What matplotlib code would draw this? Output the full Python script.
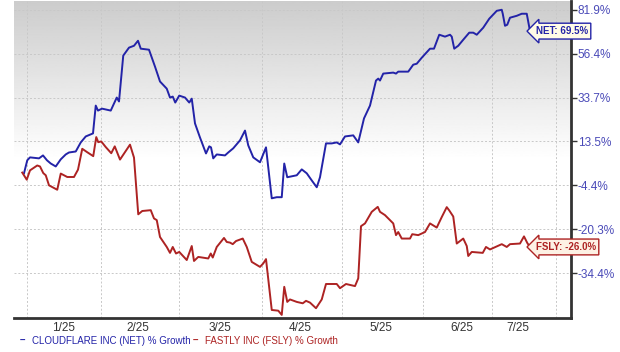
import numpy as np
import matplotlib
matplotlib.use("Agg")
import matplotlib.pyplot as plt

plt.rcParams["font.family"] = ["Liberation Sans", "DejaVu Sans"]

# % growth (x = days from start of series)
net_x = [0.8, 2.1, 3.2, 6.8, 8.4, 10, 11.5, 13.5, 15.5, 17.5, 18.8, 21.5, 23.5, 25.5, 28.4,
         29.5, 30.4, 32, 35.5, 37.9, 38.8, 40.5, 42.8, 44.8, 46.4, 47.5, 50.8, 53.2, 55.2,
         57.9, 59.2, 60.3, 61.3, 62.9, 65.2, 66.9, 67.9, 69.2, 71.2, 73.6, 74.9, 75.6, 76.5,
         77.9, 81.2, 82.5, 84.5, 87.2, 89.2, 90.5, 92.5, 95.2, 97.6, 99.9, 101.9, 103.9,
         104.9, 106.1, 109.9, 111.9, 113.9, 115.9, 117.9, 119.2, 121.6, 123.9, 125.9, 127.2,
         129.2, 132.5, 134.5, 136.8, 139.2, 141.6, 142.5, 143.2, 144.5, 148.5, 149.6, 150.5,
         154.5, 156.5, 157.9, 159.9, 163.2, 164.8, 166.9, 169.2, 171.2, 171.9, 172.9, 174.5,
         176.5, 178.9, 180.5, 181.9, 184.5, 186.9, 188.8, 189.9, 191.9, 192.3, 193.2, 194.1,
         195.2, 197.9, 199.9, 201.9, 203.2]
net_y = [0.5, 5.8, 7.0, 6.6, 7.8, 5.8, 4.5, 3.3, 6.2, 8.2, 9.0, 9.4, 13.1, 15.8, 17.2,
         30.0, 27.7, 28.6, 27.7, 33.7, 31.9, 55.4, 59.9, 61.0, 63.9, 59.3, 58.7, 49.7, 42.0,
         38.3, 33.7, 34.2, 31.4, 34.7, 33.7, 31.4, 33.2, 21.8, 15.3, 8.6, 11.5, 11.1, 6.6,
         8.2, 7.8, 9.0, 10.7, 14.0, 18.5, 11.9, 7.0, 5.0, 11.1, -9.1, -8.7, -8.7,
         4.5, -1.1, -0.3, 2.1, 0.5, -2.4, -5.1, -1.1, 12.7, 12.7, 13.1, 12.3,
         15.8, 16.3, 13.1, 24.1, 30.0, 42.5, 43.5, 42.5, 46.1, 46.6, 46.1, 47.1,
         47.1, 50.7, 51.2, 54.3, 59.3, 59.3, 67.4, 66.3, 67.4, 66.3, 59.3, 61.0,
         64.5, 68.6, 68.6, 67.4, 71.5, 76.7, 79.6, 81.3, 81.9, 79.6, 72.6, 73.2,
         77.3, 78.4, 79.6, 79.6, 69.5]

fsly_x = [0.1, 1.9, 3.2, 6.1, 7.2, 8.5, 9.5, 10.8, 14.1, 15.5, 18.1, 20.8, 22.4, 24.1, 26.1,
          28.5, 29.7, 30.5, 31.7, 33.5, 35.7, 37.1, 39.2, 43.2, 44.8, 46.5, 48.1, 51.5, 52.8,
          53.9, 55.2, 57.9, 59.2, 60.3, 61.6, 62.9, 65.9, 67.9, 68.8, 70.5, 74.5, 75.5, 76.3,
          77.9, 80.8, 81.9, 83.2, 84.3, 85.6, 88.3, 89.9, 91.9, 95.2, 96.5, 97.6, 99.9, 102.5,
          103.9, 104.9, 106.1, 107.2, 109.9, 112.3, 113.6, 115.2, 117.6, 119.9, 121.6, 125.9,
          127.2, 129.6, 133.2, 134.5, 135.6, 137.2, 139.9, 142.3, 143.2, 145.2, 148.5, 149.6,
          150.5, 151.9, 155.2, 156.1, 158.5, 161.2, 163.2, 165.9, 167.9, 169.9, 170.9, 172.5,
          173.9, 176.5, 177.9, 178.5, 179.9, 184.3, 185.6, 187.2, 191.9, 193.9, 195.2, 199.2,
          200.8, 202.1, 203.2]
fsly_y = [0.8, -2.1, 1.7, 3.7, 3.3, 0.6, -0.3, -4.4, -6.0, 0.4, -1.0, -1.0, 2.0, 10.5, 9.1,
          7.5, 15.5, 13.2, 13.5, 11.2, 8.7, 11.5, 6.1, 12.2, 6.9, -14.9, -13.7, -13.4, -16.4,
          -17.0, -22.8, -26.0, -27.9, -26.0, -28.1, -27.6, -30.2, -25.7, -30.5, -29.2, -29.7,
          -28.1, -29.4, -26.0, -23.1, -24.4, -24.6, -25.1, -24.1, -23.3, -26.0, -30.8, -32.4,
          -31.3, -29.9, -44.9, -45.1, -46.3, -38.3, -42.6, -41.9, -42.6, -43.0, -42.3, -42.8,
          -44.4, -41.9, -37.5, -37.5, -38.7, -37.5, -38.1, -35.9, -19.2, -18.2, -14.0, -12.2,
          -14.0, -15.2, -18.2, -22.2, -21.2, -23.3, -23.3, -21.9, -22.2, -21.2, -18.2, -19.7,
          -15.9, -12.3, -13.5, -15.7, -24.9, -23.3, -25.7, -28.9, -27.6, -27.9, -26.0, -26.8,
          -25.1, -26.0, -25.1, -24.9, -22.6, -24.7, -26.0]

y_ticks = [-34.4, -20.3, -4.4, 13.5, 33.7, 56.4, 81.9]
month_labels = ["1/25", "2/25", "3/25", "4/25", "5/25", "6/25", "7/25"]
month_pos = [16.8, 46.4, 79.2, 111.2, 143.6, 176.0, 198.4]
grid_x = [2, 31.6, 62.8, 96, 128, 160.4, 188, 213.6]

NET_C = "#2323a8"
FSLY_C = "#ad2323"
TICK_C = "#4a4ab8"

# the chart's y axis is evenly spaced between uneven % ticks
knot_v = np.array([-60.0, -46.9] + y_ticks + [110.4, 140.0])
knot_i = np.arange(len(knot_v)) - 2.0


def fwd(v):
    return np.interp(v, knot_v, knot_i)


def inv(i):
    return np.interp(i, knot_i, knot_v)


fig = plt.figure(figsize=(6.2, 3.52), dpi=100)
ax = fig.add_axes([14 / 620, 34 / 352, 557 / 620, 317 / 352])
ax.set_yscale("function", functions=(fwd, inv))
ax.set_xlim(-3.2, 219.6)
ax.set_ylim(-47.2, 87.6)

# gray at the top fading to white half way down
grad = np.linspace(0.80, 1.0, 200)
grad = np.concatenate([grad, np.ones(200)])[:, None]
ax.imshow(grad, cmap="gray", vmin=0, vmax=1, aspect="auto", origin="upper",
          extent=[0, 1, 0, 1], transform=ax.transAxes, zorder=0)

for gx in grid_x:
    ax.axvline(gx, color="#c8c8c8", lw=0.7, ls=(0, (2, 2)), zorder=1)
for gy in y_ticks:
    ax.axhline(gy, color="#c8c8c8", lw=0.7, ls=(0, (2, 2)), zorder=1)

ax.plot(net_x, net_y, color=NET_C, lw=1.4, zorder=3)
ax.plot(fsly_x, fsly_y, color=FSLY_C, lw=1.4, zorder=3)

for s in ["left", "top"]:
    ax.spines[s].set_visible(False)
for s in ["right", "bottom"]:
    ax.spines[s].set_color("#333333")
    ax.spines[s].set_linewidth(2)

ax.yaxis.tick_right()
ax.set_yticks(y_ticks)
ax.set_yticklabels([f"{v}%" for v in y_ticks])
ax.yaxis.set_minor_locator(matplotlib.ticker.NullLocator())
ax.tick_params(axis="y", colors="#333333", labelcolor=TICK_C, labelsize=8.5,
               length=4, width=1, pad=1)
ax.set_xticks(month_pos)
ax.set_xticklabels(month_labels)
ax.tick_params(axis="x", length=0, labelsize=8.5, labelcolor="#333333", pad=3)

# end-of-line callouts
ax.text(205.5, net_y[-1], f"NET: {net_y[-1]}%", fontsize=7, fontweight="bold",
        color=NET_C, va="center", ha="left", clip_on=False, zorder=5,
        bbox=dict(boxstyle="larrow,pad=0.3", fc="#fffbe6", ec=NET_C, lw=1))
ax.text(205.5, fsly_y[-1], f"FSLY: {fsly_y[-1]}%", fontsize=7, fontweight="bold",
        color=FSLY_C, va="center", ha="left", clip_on=False, zorder=5,
        bbox=dict(boxstyle="larrow,pad=0.3", fc="#fdf1e4", ec=FSLY_C, lw=1))

# legend row
ly = 1 - 341 / 352
fig.text(20 / 620, ly, "\u2013", color=NET_C, fontsize=7, va="center", fontweight="bold")
fig.text(32 / 620, ly, "CLOUDFLARE INC (NET) % Growth", color=NET_C,
         fontsize=7, va="center")
fig.text(193 / 620, ly, "\u2013", color=FSLY_C, fontsize=7, va="center", fontweight="bold")
fig.text(205 / 620, ly, "FASTLY INC (FSLY) % Growth", color=FSLY_C,
         fontsize=7, va="center")

fig.savefig("out.png", dpi=100)
